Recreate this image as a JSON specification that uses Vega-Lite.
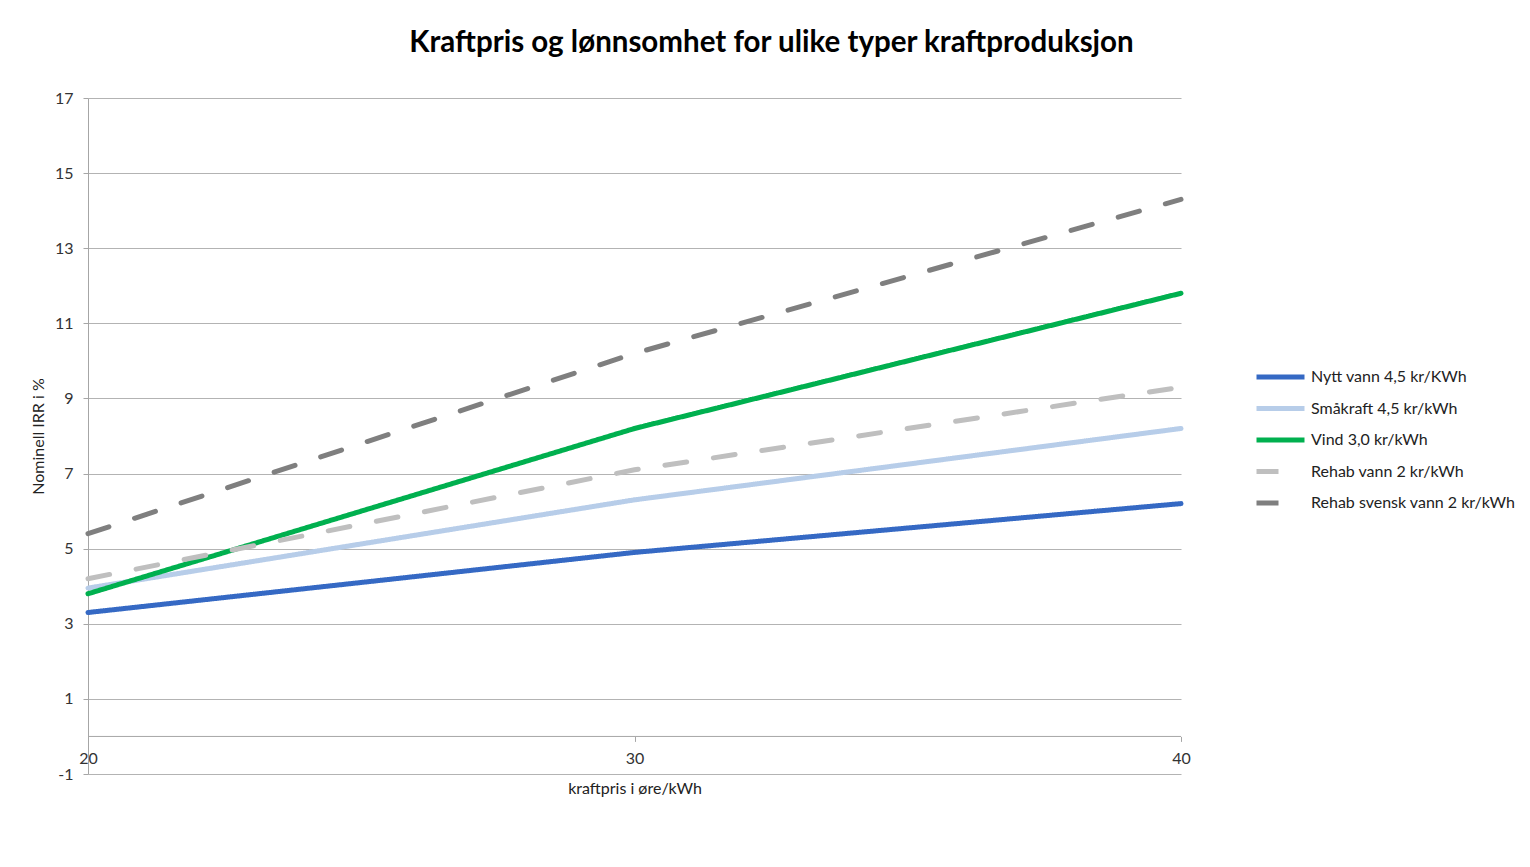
{
  "$schema": "https://vega.github.io/schema/vega-lite/v6.json",
  "autosize": "none",
  "width": 1093,
  "height": 676,
  "padding": {"left": 88, "top": 98, "right": 349, "bottom": 93},
  "background": "white",
  "title": {
    "text": "Kraftpris og lønnsomhet for ulike typer kraftproduksjon",
    "font": "Lato",
    "fontSize": 29.5,
    "fontWeight": "bold",
    "color": "#000000",
    "anchor": "middle",
    "dx": 137,
    "offset": 32
  },
  "config": {
    "view": {"stroke": null},
    "font": "Lato",
    "axis": {
      "labelFont": "Lato",
      "titleFont": "Lato",
      "labelColor": "#333333",
      "titleColor": "#222222",
      "labelFontSize": 16,
      "titleFontSize": 16,
      "titleFontWeight": "normal",
      "domainColor": "#a6a6a6",
      "tickColor": "#a6a6a6",
      "gridColor": "#b3b3b3"
    },
    "legend": {"labelFont": "Lato", "labelFontSize": 16, "labelColor": "#222222", "labelLimit": 400}
  },
  "data": {
    "values": [
      {"pris": 20, "irr": 3.3, "serie": "Nytt vann 4,5 kr/KWh"},
      {"pris": 30, "irr": 4.9, "serie": "Nytt vann 4,5 kr/KWh"},
      {"pris": 40, "irr": 6.2, "serie": "Nytt vann 4,5 kr/KWh"},
      {"pris": 20, "irr": 3.95, "serie": "Småkraft 4,5 kr/kWh"},
      {"pris": 30, "irr": 6.3, "serie": "Småkraft 4,5 kr/kWh"},
      {"pris": 40, "irr": 8.2, "serie": "Småkraft 4,5 kr/kWh"},
      {"pris": 20, "irr": 3.8, "serie": "Vind 3,0 kr/kWh"},
      {"pris": 30, "irr": 8.2, "serie": "Vind 3,0 kr/kWh"},
      {"pris": 40, "irr": 11.8, "serie": "Vind 3,0 kr/kWh"},
      {"pris": 20, "irr": 4.2, "serie": "Rehab vann 2 kr/kWh"},
      {"pris": 30, "irr": 7.1, "serie": "Rehab vann 2 kr/kWh"},
      {"pris": 40, "irr": 9.3, "serie": "Rehab vann 2 kr/kWh"},
      {"pris": 20, "irr": 5.4, "serie": "Rehab svensk vann 2 kr/kWh"},
      {"pris": 30, "irr": 10.2, "serie": "Rehab svensk vann 2 kr/kWh"},
      {"pris": 40, "irr": 14.3, "serie": "Rehab svensk vann 2 kr/kWh"}
    ]
  },
  "layer": [
    {
      "data": {"values": [{"pris": 20, "irr": 0}]},
      "mark": {"type": "rule", "color": "#a6a6a6", "strokeWidth": 1},
      "encoding": {
        "y": {"field": "irr", "type": "quantitative", "scale": {"domain": [-1, 17]}}
      }
    },
    {
      "mark": {"type": "line", "strokeWidth": 5, "strokeCap": "round", "clip": false},
      "encoding": {
        "x": {
          "field": "pris",
          "type": "quantitative",
          "scale": {"domain": [20, 40], "nice": false, "zero": false},
          "axis": {
            "values": [20, 30, 40],
            "title": "kraftpris i øre/kWh",
            "offset": -37.6,
            "grid": false,
            "tickSize": 5,
            "labelPadding": 9,
            "titlePadding": 14,
            "domain": false,
            "labelFlush": false
          }
        },
        "y": {
          "field": "irr",
          "type": "quantitative",
          "scale": {"domain": [-1, 17], "nice": false, "zero": false},
          "axis": {
            "values": [-1, 1, 3, 5, 7, 9, 11, 13, 15, 17],
            "labelExpr": "replace(datum.label, '−', '-')",
            "title": "Nominell IRR i %",
            "tickSize": 5,
            "labelPadding": 10,
            "titlePadding": 8,
            "grid": true
          }
        },
        "color": {
          "field": "serie",
          "type": "nominal",
          "scale": {
            "domain": ["Nytt vann 4,5 kr/KWh", "Småkraft 4,5 kr/kWh", "Vind 3,0 kr/kWh", "Rehab vann 2 kr/kWh", "Rehab svensk vann 2 kr/kWh"],
            "range": ["#3569c4", "#b7cde9", "#00b04f", "#bfbfbf", "#7f7f7f"]
          },
          "legend": {
            "title": null,
            "orient": "none",
            "legendX": 1166,
            "legendY": 269,
            "symbolType": "stroke",
            "symbolSize": 2304,
            "symbolStrokeWidth": 5,
            "clipHeight": 20,
            "rowPadding": 11.5,
            "labelOffset": 4
          }
        },
        "strokeDash": {
          "field": "serie",
          "type": "nominal",
          "scale": {
            "domain": ["Nytt vann 4,5 kr/KWh", "Småkraft 4,5 kr/kWh", "Vind 3,0 kr/kWh", "Rehab vann 2 kr/kWh", "Rehab svensk vann 2 kr/kWh"],
            "range": [[1, 0], [1, 0], [1, 0], [22, 27], [22, 27]]
          },
          "legend": null
        }
      }
    }
  ]
}
